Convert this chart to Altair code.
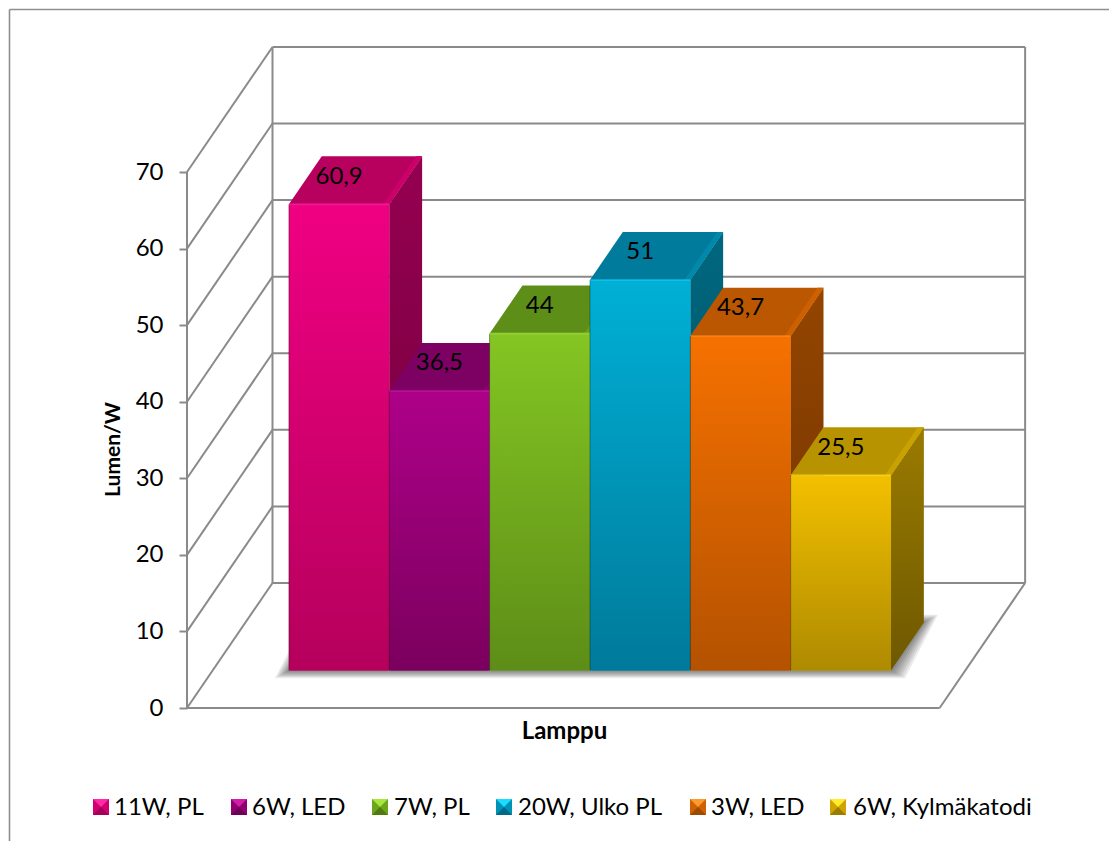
import altair as alt
import pandas as pd

# Chart values
lamps = ["11W, PL", "6W, LED", "7W, PL", "20W, Ulko PL", "3W, LED", "6W, Kylmäkatodi"]
lumen_per_watt = [60.9, 36.5, 44, 51, 43.7, 25.5]
y_ticks = [0, 10, 20, 30, 40, 50, 60, 70]

# Face colours per lamp
front_top = ["#f00082", "#ae0089", "#84c623", "#00b0d6", "#f67100", "#f3c000"]
front_bottom = ["#b5005c", "#7b005e", "#5d8d17", "#007a9a", "#b45200", "#ae8a00"]
top_face = ["#b8005f", "#7d0063", "#5d8e17", "#007b9c", "#bb5700", "#b89300"]
top_edge = ["#cc0069", "#8a006e", "#67a01a", "#0089ab", "#cf6000", "#c9a200"]
side_top = ["#950050", "#6a0054", "#4b7313", "#00677f", "#944500", "#9a7b00"]
side_bottom = ["#6d003a", "#50003e", "#375510", "#004c60", "#6e3300", "#6e5800"]
legend_mid = ["#cf0071", "#920070", "#6da51c", "#0092b5", "#d06000", "#cfa400"]
legend_light = ["#ff2aa6", "#cf1fa8", "#a9e63c", "#19dcff", "#ff9a30", "#ffec2a"]
legend_dark = ["#a80058", "#6e0056", "#4f7a12", "#006a88", "#9c4a00", "#9a7c00"]

# Oblique projection: one x unit is one bar slot, y is in lumen/W
DEPTH_X = 0.852
DEPTH_Y = 16.33
BAR_D0 = 0.30
BAR_D1 = 0.684
GAP = 0.76
FLOOR_W = 7.5
Y_MAX = 70

LEFT = 187
PLOT_W = 922
PLOT_H = 708
GRID = "#8a8a8a"
xs = alt.Scale(domain=[0, PLOT_W / 100.35], nice=False, zero=False)
ys = alt.Scale(domain=[0, PLOT_H / 7.657], nice=False, zero=False)

x_axis = alt.Axis(
    values=[], domain=False, ticks=False, labels=False, grid=False, title="Lamppu",
    titleFont="Lato", titleFontSize=24, titleFontWeight="bold", titleColor="#000000",
    titleX=377, titleY=23, titleBaseline="middle", titleAlign="center",
)
y_axis = alt.Axis(
    values=y_ticks, domain=False, grid=False, title="Lumen/W",
    tickColor=GRID, tickWidth=2, tickSize=8,
    labelFont="Lato", labelFontSize=24, labelColor="#000000", labelPadding=16,
    titleFont="Lato", titleFontSize=21, titleFontWeight="bold", titleColor="#000000",
    titleX=-74, titleY=449, titleBaseline="middle", titleAlign="center",
)


def X(field="x"):
    return alt.X(f"{field}:Q", scale=xs, axis=x_axis)


def Y(field="y"):
    return alt.Y(f"{field}:Q", scale=ys, axis=y_axis)


def sx(slot, d):
    return slot + d * DEPTH_X


def sy(v, d):
    return v + d * DEPTH_Y


def gradient(a, b):
    return alt.LinearGradient(
        gradient="linear", x1=0, x2=0, y1=0, y2=1,
        stops=[alt.GradientStop(offset=0, color=a), alt.GradientStop(offset=1, color=b)],
    )


# Wall and floor wireframe
segments = []
for v in y_ticks:
    segments.append((0, v, sx(0, 1), sy(v, 1)))
    segments.append((sx(0, 1), sy(v, 1), sx(FLOOR_W, 1), sy(v, 1)))
segments += [
    (0, 0, 0, Y_MAX),
    (sx(0, 1), sy(0, 1), sx(0, 1), sy(Y_MAX, 1)),
    (sx(FLOOR_W, 1), sy(0, 1), sx(FLOOR_W, 1), sy(Y_MAX, 1)),
    (0, 0, FLOOR_W, 0),
    (FLOOR_W, 0, sx(FLOOR_W, 1), sy(0, 1)),
]
wire_df = pd.DataFrame(segments, columns=["x", "y", "x2", "y2"])
wire = alt.Chart(wire_df).mark_rule(color=GRID, strokeWidth=2).encode(
    x=X(), y=Y(), x2="x2:Q", y2="y2:Q"
)

# Soft floor shadow as stacked translucent footprints
shadow_layers = []
x_start = GAP
x_end = GAP + len(lamps)
for grow in [0.14, 0.12, 0.10, 0.08, 0.06, 0.04, 0.02]:
    dy = grow * 100.35 / 7.657 * 0.55
    shadow_df = pd.DataFrame({
        "y": [sy(0, BAR_D0) - dy, sy(0, BAR_D1) + dy],
        "x": [sx(x_start, BAR_D0) - grow, sx(x_start, BAR_D1) - grow],
        "x2": [sx(x_end, BAR_D0) + grow, sx(x_end, BAR_D1) + grow],
    })
    shadow_layers.append(
        alt.Chart(shadow_df).mark_area(orient="horizontal", color="#000000", opacity=0.08).encode(
            y=Y(), x=X(), x2="x2:Q"
        )
    )

# Flat layer that feeds the legend; gradient faces are drawn over it.
# Legend symbols stay transparent so the shaded swatches below show through.
legend_df = pd.DataFrame({
    "lamp": lamps,
    "x": [GAP + i + BAR_D0 * DEPTH_X for i in range(len(lamps))],
    "x2": [GAP + i + 1 + BAR_D0 * DEPTH_X for i in range(len(lamps))],
    "y": [sy(0, BAR_D0)] * len(lamps),
    "y2": [sy(v, BAR_D0) for v in lumen_per_watt],
})
legend_base = alt.Chart(legend_df).mark_rect().encode(
    x=X(), x2="x2:Q", y=Y(), y2="y2:Q",
    fill=alt.Fill("lamp:N", scale=alt.Scale(domain=lamps, range=legend_mid), legend=alt.Legend(
        orient="none", legendX=-99, legendY=796, direction="horizontal", columns=6, title=None,
        symbolType="square", symbolSize=256, symbolStrokeWidth=0, symbolOpacity=0, labelFont="Lato",
        labelFontSize=24, labelColor="#000000", labelOffset=2, columnPadding=22, padding=0,
        labelLimit=400)),
)

# Bars, painted left to right so each one overlaps its neighbour's side
bars = []
for i, v in enumerate(lumen_per_watt):
    left, right = GAP + i, GAP + i + 1
    side_df = pd.DataFrame({
        "x": [sx(right, BAR_D0), sx(right, BAR_D1)],
        "y": [sy(v, BAR_D0), sy(v, BAR_D1)],
        "y2": [sy(0, BAR_D0), sy(0, BAR_D1)],
    })
    bars.append(alt.Chart(side_df).mark_area(orient="vertical", fill=gradient(side_top[i], side_bottom[i])).encode(
        x=X(), y=Y(), y2="y2:Q"))

    top_df = pd.DataFrame({
        "y": [sy(v, BAR_D0), sy(v, BAR_D1)],
        "x": [sx(left, BAR_D0), sx(left, BAR_D1)],
        "x2": [sx(right, BAR_D0), sx(right, BAR_D1)],
    })
    bars.append(alt.Chart(top_df).mark_area(orient="horizontal", color=top_face[i]).encode(
        y=Y(), x=X(), x2="x2:Q"))

    # Bevelled rim on the right edge of the top face, kept inside its corners
    rim_df = pd.DataFrame({
        "y": [sy(v, BAR_D0), sy(v, BAR_D1)],
        "x": [sx(right, BAR_D0) - 0.06, sx(right, BAR_D1) - 0.06],
        "x2": [sx(right, BAR_D0), sx(right, BAR_D1)],
    })
    bars.append(alt.Chart(rim_df).mark_area(orient="horizontal", color=top_edge[i]).encode(
        y=Y(), x=X(), x2="x2:Q"))

    front_df = pd.DataFrame({
        "x": [sx(left, BAR_D0)], "x2": [sx(right, BAR_D0)],
        "y": [sy(0, BAR_D0)], "y2": [sy(v, BAR_D0)],
    })
    bars.append(alt.Chart(front_df).mark_rect(
        fill=gradient(front_top[i], front_bottom[i]), cornerRadius=2).encode(
        x=X(), x2="x2:Q", y=Y(), y2="y2:Q"))
    # Thin darker seam on the left edge of the front face
    bars.append(alt.Chart(front_df).mark_rule(color="#000000", opacity=0.3, strokeWidth=1).encode(
        x=X(), y=Y(), y2="y2:Q"))
    # Bright lip along the top edge of the front face
    bars.append(alt.Chart(front_df).mark_rule(color=legend_light[i], opacity=0.45, strokeWidth=2).encode(
        x=X(), x2="x2:Q", y=Y("y2")))

# Value labels sit over the top faces, with the decimal comma
label_df = pd.DataFrame({
    "x": [GAP + i + 0.5 + BAR_D0 * DEPTH_X for i in range(len(lamps))],
    "y": [sy(v, BAR_D0) + 3.6 for v in lumen_per_watt],
    "text": [str(v).replace(".", ",") for v in lumen_per_watt],
})
labels = alt.Chart(label_df).mark_text(font="Lato", fontSize=24, color="#000000", baseline="middle").encode(
    x=X(), y=Y(), text="text:N"
)

# Outer chart frame, top and left edges
one = pd.DataFrame({"a": [0]})
frame = [
    alt.Chart(one).mark_rule(color="#8f8f8f", strokeWidth=1.6).encode(
        x=alt.value(9.5 - LEFT), x2=alt.value(1109 - LEFT), y=alt.value(9.5)),
    alt.Chart(one).mark_rule(color="#8f8f8f", strokeWidth=1.6).encode(
        x=alt.value(9.5 - LEFT), y=alt.value(9.5), y2=alt.value(841)),
]

# Legend swatches with pyramid shading
swatch_x = [101, 239, 380, 504, 698, 838]
swatch_y = 807
pyramids = []
for cx, mid, light, dark in zip(swatch_x, legend_mid, legend_light, legend_dark):
    pos = {"x": alt.value(cx - LEFT), "y": alt.value(swatch_y)}
    pyramids.append(alt.Chart(one).mark_point(
        shape="square", filled=True, size=256, color=mid, opacity=1, strokeWidth=0).encode(**pos))
    pyramids.append(alt.Chart(one).mark_point(
        shape="M-1 -1 L1 -1 L0 0 Z", filled=True, size=256, color=light, opacity=1, strokeWidth=0).encode(**pos))
    pyramids.append(alt.Chart(one).mark_point(
        shape="M-1 1 L1 1 L0 0 Z", filled=True, size=256, color=dark, opacity=1, strokeWidth=0).encode(**pos))

chart = alt.layer(
    *frame, wire, *shadow_layers, legend_base, *bars, labels, *pyramids
).properties(
    width=PLOT_W,
    height=PLOT_H,
    padding={"left": LEFT, "top": 0, "right": 0, "bottom": 133},
    autosize=alt.AutoSizeParams(type="none"),
    background="#ffffff",
).configure_view(stroke=None)

chart.save("out.html", embed_options={"renderer": "svg", "actions": False})
